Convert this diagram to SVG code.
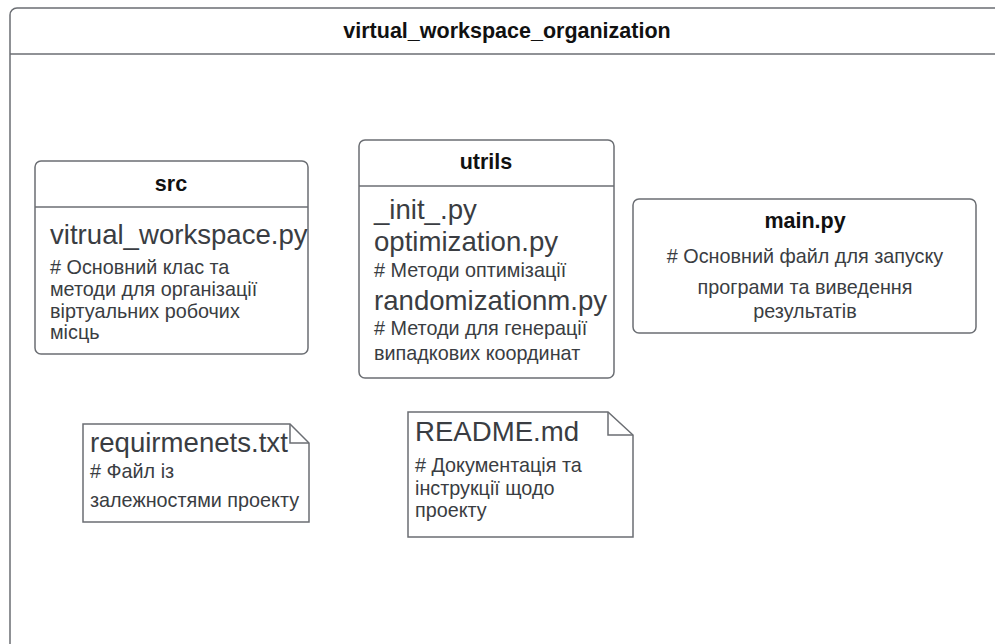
<svg xmlns="http://www.w3.org/2000/svg" width="995" height="644" viewBox="0 0 995 644">
  <style>
    .box { fill: #ffffff; stroke: #6b6e73; stroke-width: 1.5; }
    .line { fill: none; stroke: #6b6e73; stroke-width: 1.5; }
    .title { font-family: "Liberation Sans", Arial, sans-serif; font-weight: bold; font-size: 21.5px; fill: #111111; text-anchor: middle; }
    .big { font-family: "Liberation Sans", Arial, sans-serif; font-size: 27.6px; fill: #3a3d42; }
    .small { font-family: "Liberation Sans", Arial, sans-serif; font-size: 19.8px; fill: #3a3d42; }
    .mid { text-anchor: middle; }
  </style>
  <rect width="995" height="644" fill="#ffffff"/>

  <!-- outer container -->
  <g id="virtual_workspace_organization">
    <rect class="box" x="10" y="8" width="1000" height="660" rx="7"/>
    <line class="line" x1="10" y1="54" x2="995" y2="54"/>
    <text class="title" x="507" y="38">virtual_workspace_organization</text>
  </g>

  <!-- src package -->
  <g id="src">
    <rect class="box" x="35" y="161" width="273" height="193" rx="6"/>
    <line class="line" x1="35" y1="207" x2="308" y2="207"/>
    <text class="title" x="171" y="191">src</text>
    <text class="big" x="50" y="244">vitrual_workspace.py</text>
    <text class="small">
      <tspan x="50" y="274"># Основний клас та</tspan>
      <tspan x="50" y="296">методи для організації</tspan>
      <tspan x="50" y="318">віртуальних робочих</tspan>
      <tspan x="50" y="339">місць</tspan>
    </text>
  </g>

  <!-- utrils package -->
  <g id="utrils">
    <rect class="box" x="359" y="140" width="255" height="238" rx="6"/>
    <line class="line" x1="359" y1="186" x2="614" y2="186"/>
    <text class="title" x="486" y="169">utrils</text>
    <text class="big" x="374" y="219">_init_.py</text>
    <text class="big" x="374" y="251">optimization.py</text>
    <text class="small" x="374" y="277"># Методи оптимізації</text>
    <text class="big" x="374" y="310">randomizationm.py</text>
    <text class="small" x="374" y="335"># Методи для генерації</text>
    <text class="small" x="374" y="360">випадкових координат</text>
  </g>

  <!-- main.py -->
  <g id="main_py">
    <rect class="box" x="633" y="199" width="343" height="134" rx="6"/>
    <text class="title" x="805" y="228">main.py</text>
    <text class="small mid" x="805" y="263"># Основний файл для запуску</text>
    <text class="small mid" x="805" y="294">програми та виведення</text>
    <text class="small mid" x="805" y="318">результатів</text>
  </g>

  <!-- requirmenets.txt note -->
  <g id="requirements_txt">
    <path class="box" d="M83 424 H290 L309 443 V522 H83 Z"/>
    <path class="line" d="M290 424 V443 H309"/>
    <text class="big" x="90" y="452">requirmenets.txt</text>
    <text class="small" x="90" y="478"># Файл із</text>
    <text class="small" x="90" y="507">залежностями проекту</text>
  </g>

  <!-- README.md note -->
  <g id="readme_md">
    <path class="box" d="M408 412 H608 L633 435 V537 H408 Z"/>
    <path class="line" d="M608 412 V435 H633"/>
    <text class="big" x="415" y="441">README.md</text>
    <text class="small" x="415" y="472"># Документація та</text>
    <text class="small" x="415" y="495">інструкції щодо</text>
    <text class="small" x="415" y="517">проекту</text>
  </g>

  <g id="connectors"/>
</svg>
